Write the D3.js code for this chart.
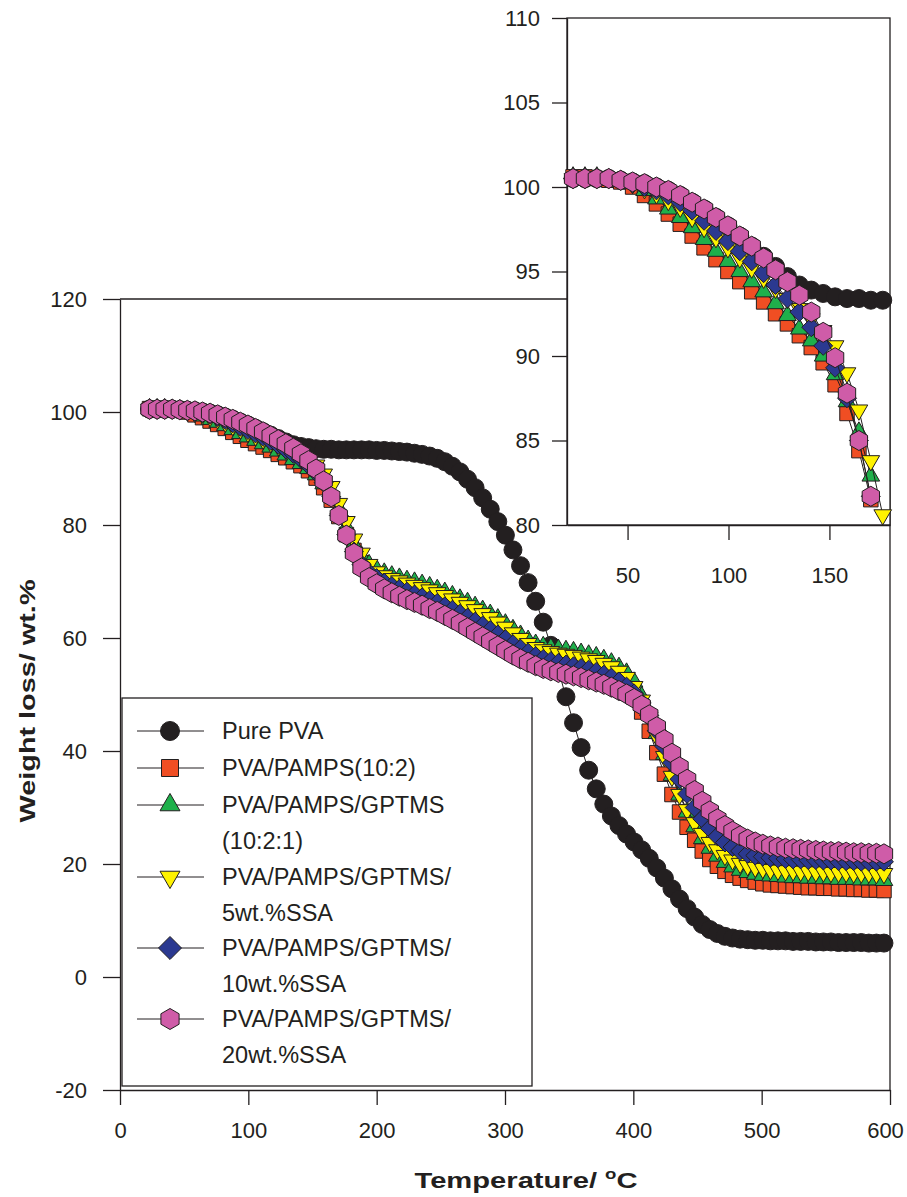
<!DOCTYPE html>
<html>
<head>
<meta charset="utf-8">
<script src="https://cdn.jsdelivr.net/npm/d3@7"></script>
<style>
  body { margin: 0; background: #fff; }
  text { font-family: "Liberation Sans", Arial, sans-serif; fill: #231f20; }
</style>
</head>
<body>
<div id="my_dataviz"></div>
<script>
// temperatures (deg C) of the recorded points
let temps = [23, 28.9, 34.8, 40.7, 46.6, 52.5, 58.4, 64.3, 70.2, 76.1,
  82, 87.9, 93.8, 99.7, 105.6, 111.5, 117.4, 123.3, 129.2, 135.1,
  141, 146.9, 152.8, 158.7, 164.6, 170.5, 176.4, 182.3, 188.2, 194.1,
  200, 205.9, 211.8, 217.7, 223.6, 229.5, 235.4, 241.3, 247.2, 253.1,
  259, 264.9, 270.8, 276.7, 282.6, 288.5, 294.4, 300.3, 306.2, 312.1,
  318, 323.9, 329.8, 335.7, 341.6, 347.5, 353.4, 359.3, 365.2, 371.1,
  377, 382.9, 388.8, 394.7, 400.6, 406.5, 412.4, 418.3, 424.2, 430.1,
  436, 441.9, 447.8, 453.7, 459.6, 465.5, 471.4, 477.3, 483.2, 489.1,
  495, 500.9, 506.8, 512.7, 518.6, 524.5, 530.4, 536.3, 542.2, 548.1,
  554, 559.9, 565.8, 571.7, 577.6, 583.5, 589.4, 595.3]

let purePVA = [100.5, 100.5, 100.5, 100.5, 100.4, 100.3, 100.2, 100.0, 99.8, 99.5,
  99.1, 98.7, 98.2, 97.7, 97.1, 96.5, 95.9, 95.3, 94.7, 94.2,
  93.9, 93.7, 93.5, 93.4, 93.4, 93.3, 93.3, 93.3, 93.3, 93.3,
  93.2, 93.2, 93.1, 93.0, 92.9, 92.7, 92.5, 92.2, 91.8, 91.2,
  90.4, 89.4, 88.1, 86.6, 84.8, 82.8, 80.6, 78.2, 75.6, 72.8,
  69.8, 66.5, 62.8, 58.7, 54.3, 49.6, 45.0, 40.6, 36.6, 33.3,
  30.6, 28.5, 26.8, 25.3, 23.9, 22.5, 21.0, 19.3, 17.5, 15.6,
  13.8, 12.1, 10.6, 9.3, 8.4, 7.7, 7.2, 6.9, 6.7, 6.6,
  6.5, 6.5, 6.4, 6.4, 6.4, 6.3, 6.3, 6.3, 6.2, 6.2,
  6.2, 6.1, 6.1, 6.1, 6.1, 6.0, 6.0, 6.0]

let pamps = [100.6, 100.6, 100.5, 100.4, 100.3, 100.0, 99.5, 99.0, 98.4, 97.8,
  97.1, 96.4, 95.7, 95.0, 94.4, 93.8, 93.2, 92.5, 91.9, 91.2,
  90.5, 89.6, 88.3, 86.6, 84.4, 81.5, 78.3, 75.5, 73.3, 71.6,
  70.5, 70.0, 69.4, 68.9, 68.4, 68.0, 67.6, 67.2, 66.7, 66.2,
  65.6, 65.0, 64.4, 63.8, 63.1, 62.4, 61.6, 60.7, 59.8, 58.9,
  58.1, 57.4, 56.9, 56.6, 56.3, 56.1, 55.8, 55.5, 55.2, 54.8,
  54.3, 53.7, 52.8, 51.5, 49.6, 46.9, 43.5, 39.7, 35.9, 32.3,
  29.2, 26.5, 24.2, 22.3, 20.8, 19.6, 18.7, 18.0, 17.5, 17.1,
  16.8, 16.5, 16.3, 16.2, 16.1, 16.0, 15.9, 15.8, 15.8, 15.7,
  15.7, 15.6, 15.6, 15.5, 15.5, 15.4, 15.4, 15.3]

let gptms = [100.6, 100.6, 100.6, 100.5, 100.4, 100.2, 99.8, 99.3, 98.7, 98.2,
  97.6, 96.9, 96.2, 95.6, 95.0, 94.4, 93.8, 93.1, 92.4, 91.6,
  90.9, 90.0, 88.9, 87.3, 85.5, 82.9, 79.6, 76.5, 74.5, 73.0,
  72.1, 71.5, 71.0, 70.6, 70.2, 69.9, 69.5, 69.1, 68.6, 68.1,
  67.5, 66.9, 66.3, 65.6, 64.9, 64.2, 63.4, 62.5, 61.5, 60.5,
  59.6, 58.9, 58.5, 58.2, 58.0, 57.8, 57.6, 57.3, 57.0, 56.7,
  56.2, 55.6, 54.8, 53.8, 52.2, 49.6, 46.6, 43.1, 39.4, 35.7,
  32.2, 29.2, 26.6, 24.5, 22.8, 21.4, 20.3, 19.5, 18.9, 18.5,
  18.2, 18.0, 17.9, 17.8, 17.7, 17.6, 17.6, 17.5, 17.5, 17.4,
  17.4, 17.3, 17.3, 17.3, 17.2, 17.2, 17.2, 17.1]

let ssa5 = [100.5, 100.5, 100.5, 100.5, 100.4, 100.2, 99.9, 99.6, 99.2, 98.8,
  98.2, 97.6, 97.0, 96.4, 95.8, 95.2, 94.6, 94.0, 93.4, 92.8,
  92.2, 91.5, 90.6, 89.0, 86.8, 83.8, 80.6, 77.5, 75.0, 73.0,
  71.7, 71.0, 70.5, 70.1, 69.7, 69.3, 68.9, 68.5, 68.0, 67.5,
  66.9, 66.3, 65.7, 65.0, 64.3, 63.6, 62.8, 61.9, 60.9, 59.9,
  59.0, 58.3, 57.9, 57.6, 57.3, 57.1, 56.9, 56.6, 56.3, 56.0,
  55.5, 54.9, 54.1, 53.0, 51.4, 49.0, 46.0, 42.6, 39.0, 35.5,
  32.3, 29.6, 27.3, 25.4, 23.8, 22.5, 21.5, 20.7, 20.1, 19.7,
  19.4, 19.2, 19.0, 18.9, 18.8, 18.8, 18.7, 18.7, 18.6, 18.6,
  18.5, 18.5, 18.5, 18.4, 18.4, 18.4, 18.3, 18.3]

let ssa10 = [100.5, 100.5, 100.5, 100.5, 100.4, 100.2, 100.0, 99.8, 99.5, 99.1,
  98.6, 98.0, 97.4, 96.8, 96.2, 95.6, 94.9, 94.2, 93.4, 92.6,
  91.7, 90.6, 89.3, 87.5, 85.0, 81.7, 78.3, 75.3, 73.0, 71.5,
  70.6, 69.8, 69.2, 68.7, 68.2, 67.7, 67.2, 66.7, 66.2, 65.6,
  65.0, 64.3, 63.6, 62.9, 62.2, 61.4, 60.6, 59.8, 58.9, 58.1,
  57.4, 56.8, 56.3, 55.9, 55.6, 55.3, 55.0, 54.7, 54.4, 54.0,
  53.5, 53.0, 52.3, 51.4, 50.2, 48.5, 46.3, 43.6, 40.8, 37.9,
  35.0, 32.4, 30.0, 28.0, 26.3, 24.9, 23.8, 23.0, 22.3, 21.8,
  21.5, 21.3, 21.1, 21.0, 20.9, 20.8, 20.8, 20.7, 20.7, 20.6,
  20.6, 20.5, 20.5, 20.5, 20.4, 20.4, 20.4, 20.4]

let ssa20 = [100.5, 100.5, 100.5, 100.5, 100.4, 100.3, 100.2, 100.0, 99.8, 99.5,
  99.1, 98.7, 98.2, 97.7, 97.1, 96.5, 95.8, 95.1, 94.4, 93.6,
  92.6, 91.4, 89.9, 87.8, 85.0, 81.7, 78.2, 75.0, 72.4, 70.7,
  69.6, 68.7, 68.0, 67.4, 66.8, 66.3, 65.8, 65.2, 64.7, 64.0,
  63.3, 62.6, 61.8, 61.0, 60.2, 59.4, 58.6, 57.8, 57.0, 56.3,
  55.7, 55.1, 54.6, 54.2, 53.9, 53.6, 53.3, 53.0, 52.6, 52.2,
  51.8, 51.3, 50.7, 50.1, 49.3, 48.1, 46.4, 44.3, 42.0, 39.6,
  37.2, 35.0, 33.0, 31.1, 29.4, 28.0, 26.8, 25.8, 25.0, 24.4,
  23.9, 23.5, 23.2, 23.0, 22.8, 22.7, 22.6, 22.5, 22.4, 22.3,
  22.2, 22.2, 22.1, 22.0, 22.0, 21.9, 21.9, 21.8]

let seriesNames = [["Pure PVA"], ["PVA/PAMPS(10:2)"], ["PVA/PAMPS/GPTMS", "(10:2:1)"],
  ["PVA/PAMPS/GPTMS/", "5wt.%SSA"], ["PVA/PAMPS/GPTMS/", "10wt.%SSA"], ["PVA/PAMPS/GPTMS/", "20wt.%SSA"]]
let seriesValues = [purePVA, pamps, gptms, ssa5, ssa10, ssa20]

let mainYTicks = [-20, 0, 20, 40, 60, 80, 100, 120]
let mainXTicks = [0, 100, 200, 300, 400, 500, 600]
let insetYTicks = [80, 85, 90, 95, 100, 105, 110]
let insetXTicks = [50, 100, 150]

const ink = "#231f20"

// custom marker shapes (size = area, like d3 symbols)
const symbolDiamondSq = {
    draw(ctx, size) {
        let r = Math.sqrt(size / 2)
        ctx.moveTo(0, -r); ctx.lineTo(r, 0); ctx.lineTo(0, r); ctx.lineTo(-r, 0); ctx.closePath()
    }
}
const symbolHexagon = {
    draw(ctx, size) {
        let r = Math.sqrt(size / (1.5 * Math.sqrt(3)))
        for (let k = 0; k < 6; k++) {
            let a = Math.PI / 2 + k * Math.PI / 3
            if (k === 0) ctx.moveTo(r * Math.cos(a), -r * Math.sin(a))
            else ctx.lineTo(r * Math.cos(a), -r * Math.sin(a))
        }
        ctx.closePath()
    }
}

let markers = [
    { type: d3.symbolCircle, rot: 0, size: 254, legSize: 283, fill: "#231f20" },
    { type: d3.symbolSquare, rot: 0, size: 210, legSize: 289, fill: "#f04e23" },
    { type: d3.symbolTriangle, rot: 0, size: 135, legSize: 173, fill: "#1fb04b" },
    { type: d3.symbolTriangle, rot: 180, size: 135, legSize: 173, fill: "#fff200" },
    { type: symbolDiamondSq, rot: 0, size: 180, legSize: 265, fill: "#2b3990" },
    { type: symbolHexagon, rot: 0, size: 260, legSize: 286, fill: "#cf5ca8" }
]

let svg = d3.select("#my_dataviz")
    .append("svg")
    .attr("width", 907)
    .attr("height", 1197)

// main scales
let x = d3.scaleLinear().domain([0, 600]).range([120, 890])
let y = d3.scaleLinear().domain([-20, 120]).range([1090, 299])

// inset scales
let xi = d3.scaleLinear().domain([20, 180]).range([567, 890])
let yi = d3.scaleLinear().domain([80, 110]).range([525, 18])

const plain = d => String(d)

const styleAxis = (g) => {
    g.selectAll("path, line").attr("stroke", ink).attr("stroke-width", 1.3)
    g.selectAll("text").attr("fill", ink).style("font-size", "22px")
        .style("font-family", '"Liberation Sans", Arial, sans-serif')
}

const drawSeries = (g, sx, sy, keep) => {
    seriesValues.forEach((vals, s) => {
        let pts = temps.map((t, i) => ({ t: t, v: vals[i] })).filter(keep)
        let m = markers[s]
        g.append("path")
            .datum(pts)
            .attr("fill", "none")
            .attr("stroke", ink)
            .attr("stroke-width", 1)
            .attr("d", d3.line().x(d => sx(d.t)).y(d => sy(d.v)))
        g.selectAll(".m" + s)
            .data(pts)
            .enter()
            .append("path")
            .attr("class", "m" + s)
            .attr("transform", d => "translate(" + sx(d.t) + "," + sy(d.v) + ") rotate(" + m.rot + ")")
            .attr("d", d3.symbol().type(m.type).size(m.size))
            .attr("fill", m.fill)
            .attr("stroke", ink)
            .attr("stroke-width", 1)
    })
}

// main frame lines
svg.append("line").attr("x1", 120).attr("x2", 890).attr("y1", 299).attr("y2", 299)
    .attr("stroke", ink).attr("stroke-width", 1.3)
svg.append("line").attr("x1", 890).attr("x2", 890).attr("y1", 299).attr("y2", 1090)
    .attr("stroke", ink).attr("stroke-width", 1.3)

svg.append("g")
    .attr("transform", "translate(120,0)")
    .call(d3.axisLeft(y).tickValues(mainYTicks).tickFormat(plain).tickSize(17).tickSizeOuter(0).tickPadding(16))
    .call(styleAxis)

let xAxisG = svg.append("g")
    .attr("transform", "translate(0,1090)")
    .call(d3.axisBottom(x).tickValues(mainXTicks).tickFormat(plain).tickSize(15).tickSizeOuter(0).tickPadding(17))
    .call(styleAxis)
// the last label sits a little left of its tick, as in the original
xAxisG.selectAll(".tick text").filter(d => d === 600).attr("x", -5)

drawSeries(svg.append("g"), x, y, d => true)

// legend
let leg = svg.append("g")
leg.append("rect")
    .attr("x", 122).attr("y", 698).attr("width", 410).attr("height", 388)
    .attr("fill", "#fff").attr("stroke", ink).attr("stroke-width", 1.3)

let rowY = [731, 768, 805, 877, 948, 1019]
seriesNames.forEach((lines, s) => {
    let m = markers[s]
    leg.append("line")
        .attr("x1", 137).attr("x2", 204).attr("y1", rowY[s]).attr("y2", rowY[s])
        .attr("stroke", ink).attr("stroke-width", 1)
    leg.append("path")
        .attr("transform", "translate(170," + rowY[s] + ") rotate(" + m.rot + ")")
        .attr("d", d3.symbol().type(m.type).size(m.legSize))
        .attr("fill", m.fill).attr("stroke", ink).attr("stroke-width", 1)
    lines.forEach((txt, k) => {
        leg.append("text")
            .attr("x", 222).attr("y", rowY[s] + k * 36)
            .attr("dy", "0.36em")
            .style("font-size", "23.5px")
            .text(txt)
    })
})

// inset
let inset = svg.append("g")
inset.append("rect")
    .attr("x", 567).attr("y", 18).attr("width", 323).attr("height", 507)
    .attr("fill", "#fff").attr("stroke", ink).attr("stroke-width", 1.3)

inset.append("g")
    .attr("transform", "translate(567,0)")
    .call(d3.axisLeft(yi).tickValues(insetYTicks).tickFormat(plain).tickSize(15).tickSizeOuter(0).tickPadding(12))
    .call(styleAxis)

inset.append("g")
    .attr("transform", "translate(0,525)")
    .call(d3.axisBottom(xi).tickValues(insetXTicks).tickFormat(plain).tickSize(15).tickSizeOuter(0).tickPadding(27))
    .call(styleAxis)

drawSeries(inset.append("g"), xi, yi, d => d.t <= 180 && d.v >= 80)

// axis titles
svg.append("text")
    .attr("transform", "translate(35,701) rotate(-90)")
    .attr("text-anchor", "middle")
    .attr("textLength", 243)
    .attr("lengthAdjust", "spacingAndGlyphs")
    .style("font-size", "22px")
    .style("font-weight", "bold")
    .text("Weight loss/ wt.%")

let xt = svg.append("text")
    .attr("x", 526).attr("y", 1188)
    .attr("text-anchor", "middle")
    .attr("textLength", 223)
    .attr("lengthAdjust", "spacingAndGlyphs")
    .style("font-size", "22px")
    .style("font-weight", "bold")
xt.append("tspan").text("Temperature/ ")
xt.append("tspan").attr("dy", -9).style("font-size", "14px").text("o")
xt.append("tspan").attr("dy", 9).text("C")
</script>
</body>
</html>
